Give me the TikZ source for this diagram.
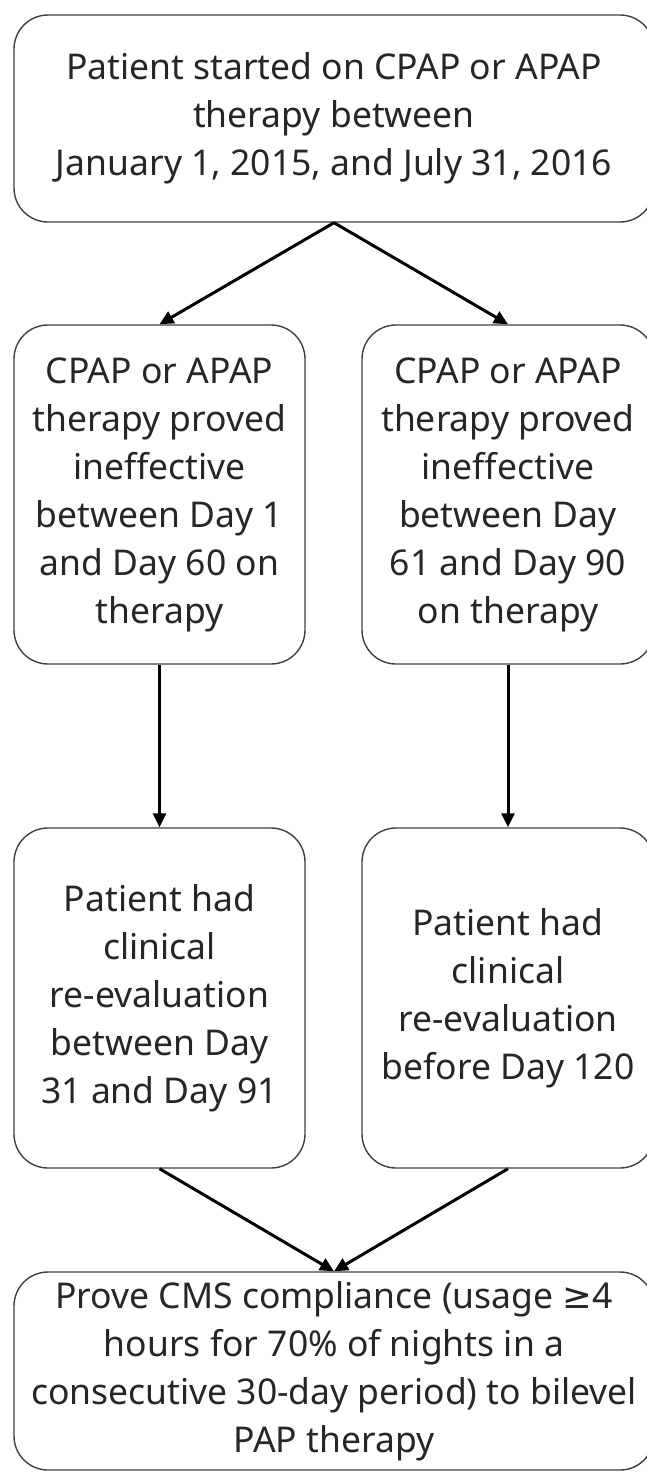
\documentclass[tikz,border=0pt]{standalone}
\usepackage{fontspec}
\setmainfont{Noto Sans}
\newfontfamily\symfont{DejaVu Sans}
\usetikzlibrary{arrows.meta}
\begin{document}
\begin{tikzpicture}[x=1pt,y=-1pt,
  box/.style={draw=black!75,line width=1.4pt,rounded corners=34pt,inner sep=0pt,
    align=center,text=black!85,font=\fontsize{35.5}{48}\selectfont},
  conn/.style={line width=3pt,-{Triangle[length=14pt,width=13pt]}}]
\useasboundingbox (0,0) rectangle (646,1472);
\node[box,minimum width=640pt,minimum height=207pt] (top) at (334,118.5)
  {Patient started on CPAP or APAP\\therapy between\\January 1, 2015, and July 31, 2016};
\node[box,minimum width=291pt,minimum height=339pt] (ml) at (159.5,494.5)
  {CPAP or APAP\\therapy proved\\ineffective\\between Day 1\\and Day 60 on\\therapy};
\node[box,minimum width=292pt,minimum height=339pt] (mr) at (508,494.5)
  {CPAP or APAP\\therapy proved\\ineffective\\between Day\\61 and Day 90\\on therapy};
\node[box,minimum width=291pt,minimum height=340pt] (ll) at (159.5,998)
  {Patient had\\clinical\\re-evaluation\\between Day\\31 and Day 91};
\node[box,minimum width=292pt,minimum height=340pt] (lr) at (508,998)
  {Patient had\\clinical\\re-evaluation\\before Day 120};
\node[box,minimum width=640pt,minimum height=198pt] (bot) at (334,1371)
  {Prove CMS compliance (usage {\symfont ≥}4\\hours for 70\% of nights in a\\consecutive 30-day period) to bilevel\\PAP therapy};
\draw[conn] (top.south) -- (ml.north);
\draw[conn] (top.south) -- (mr.north);
\draw[conn] (ml.south) -- (ll.north);
\draw[conn] (mr.south) -- (lr.north);
\draw[conn] (ll.south) -- (bot.north);
\draw[conn] (lr.south) -- (bot.north);
\end{tikzpicture}
\end{document}
